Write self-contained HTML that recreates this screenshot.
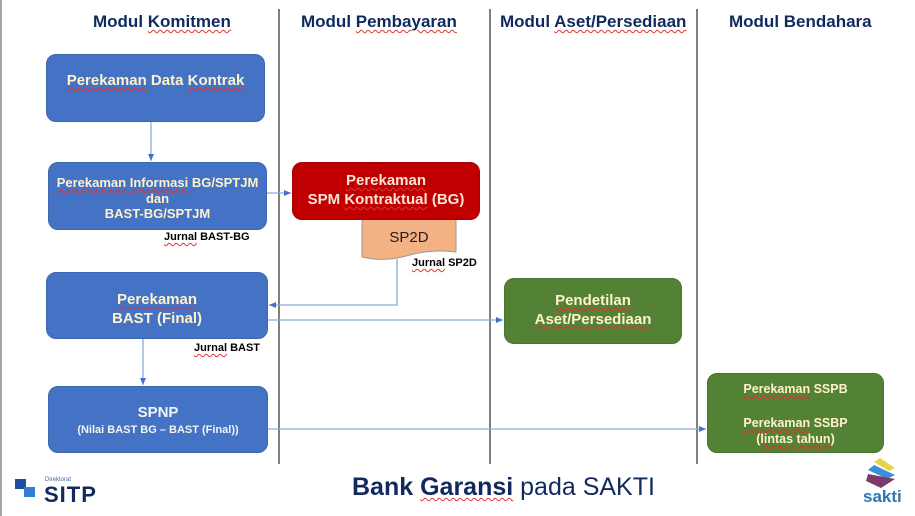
<!DOCTYPE html>
<html><head><meta charset="utf-8">
<style>
html,body{margin:0;padding:0;}
body{width:915px;height:516px;position:relative;overflow:hidden;background:#fff;font-family:"Liberation Sans",sans-serif;}
.abs{position:absolute;}
.hdr{position:absolute;top:12px;font-weight:bold;font-size:17px;color:#10295e;white-space:nowrap;}
.box{position:absolute;border-radius:10px;box-sizing:border-box;}
.blue{background:#4472c4;border:1px solid #3d66b0;}
.green{background:#548235;border:1px solid #4a7430;}
.red{background:#c00000;border:1px solid #a80000;}
.t{position:absolute;left:0;right:0;text-align:center;font-weight:bold;white-space:nowrap;color:#fff2cc;}
.sq{text-decoration:underline wavy #d33;text-decoration-thickness:1px;text-underline-offset:2px;}
.j{position:absolute;font-weight:bold;font-size:11px;color:#000;white-space:nowrap;}
</style></head><body>
<div class="abs" style="left:0;top:0;width:2px;height:516px;background:#a6a6a6"></div>

<svg class="abs" style="left:0;top:0" width="915" height="516">
  <defs>
    <marker id="ar" markerWidth="8" markerHeight="8" refX="7" refY="4" orient="auto" markerUnits="userSpaceOnUse">
      <path d="M0,1 L7,4 L0,7 Z" fill="#4472c4"/>
    </marker>
  </defs>
  <line x1="279" y1="9" x2="279" y2="464" stroke="#7f7f7f" stroke-width="2"/>
  <line x1="490" y1="9" x2="490" y2="464" stroke="#7f7f7f" stroke-width="2"/>
  <line x1="697" y1="9" x2="697" y2="464" stroke="#7f7f7f" stroke-width="2"/>
  <!-- connectors -->
  <line x1="151" y1="122" x2="151" y2="161" stroke="#8faadc" stroke-width="1.3" marker-end="url(#ar)"/>
  <line x1="267" y1="193" x2="291" y2="193" stroke="#8faadc" stroke-width="1.3" marker-end="url(#ar)"/>
  <polyline points="397,259 397,305 269,305" fill="none" stroke="#8faadc" stroke-width="1.3" marker-end="url(#ar)"/>
  <line x1="268" y1="320" x2="503" y2="320" stroke="#8faadc" stroke-width="1.3" marker-end="url(#ar)"/>
  <line x1="143" y1="339" x2="143" y2="385" stroke="#8faadc" stroke-width="1.3" marker-end="url(#ar)"/>
  <line x1="268" y1="429" x2="706" y2="429" stroke="#8faadc" stroke-width="1.3" marker-end="url(#ar)"/>
  <!-- SP2D doc -->
  <path d="M362,216 L456,216 L456,252 C440,250 425,251 410,255 C393,260 378,261 362,257 Z" fill="#f4b183" stroke="#9a9a9a" stroke-width="1"/>
  <text x="409" y="242" text-anchor="middle" font-family="Liberation Sans, sans-serif" font-size="15" fill="#222">SP2D</text>
  <!-- SITP logo -->
  <rect x="15" y="479" width="11" height="10" fill="#1f4e9b"/>
  <rect x="24" y="487" width="11" height="10" fill="#2f7fd3"/>
  <!-- sakti logo -->
  <polygon points="880,458 895,468 889,471 874,462" fill="#e8d44a"/>
  <polygon points="874,465 895,475 887,479 868,470" fill="#3a8fd6"/>
  <polygon points="868,474 895,479 881,488 866,481" fill="#7b3b6a"/>
</svg>

<div class="hdr" style="left:93px"><span>Modul </span><span class="sq">Komitmen</span></div>
<div class="hdr" style="left:301px"><span>Modul </span><span class="sq">Pembayaran</span></div>
<div class="hdr" style="left:500px"><span>Modul </span><span class="sq">Aset/Persediaan</span></div>
<div class="hdr" style="left:729px">Modul Bendahara</div>

<div class="box blue" style="left:46px;top:54px;width:219px;height:68px">
  <div class="t" style="top:17px;font-size:15px"><span class="sq">Perekaman</span> Data <span class="sq">Kontrak</span></div>
</div>

<div class="box blue" style="left:48px;top:162px;width:219px;height:68px">
  <div class="t" style="top:12px;font-size:13px;line-height:15.5px"><span class="sq">Perekaman</span> <span class="sq">Informasi</span> BG/SPTJM<br>dan<br>BAST-BG/SPTJM</div>
</div>
<div class="j" style="left:164px;top:231px"><span class="sq">Jurnal</span> BAST-BG</div>

<div class="box red" style="left:292px;top:162px;width:188px;height:58px">
  <div class="t" style="top:8px;font-size:15px;line-height:19px;color:#fce4d6"><span class="sq">Perekaman</span><br>SPM <span class="sq">Kontraktual</span> (BG)</div>
</div>
<div class="j" style="left:412px;top:257px"><span class="sq">Jurnal</span> SP2D</div>

<div class="box blue" style="left:46px;top:272px;width:222px;height:67px">
  <div class="t" style="top:18px;font-size:15px;line-height:18.5px"><span class="sq">Perekaman</span><br>BAST (Final)</div>
</div>
<div class="j" style="left:194px;top:342px"><span class="sq">Jurnal</span> BAST</div>

<div class="box blue" style="left:48px;top:386px;width:220px;height:67px">
  <div class="t" style="top:17px;font-size:15px;color:#f4f4f4">SPNP</div>
  <div class="t" style="top:37px;font-size:11px;color:#f4f4f4">(Nilai BAST BG – BAST (Final))</div>
</div>

<div class="box green" style="left:504px;top:278px;width:178px;height:66px">
  <div class="t" style="top:13px;font-size:15px;line-height:18.5px"><span class="sq">Pendetilan</span><br><span class="sq">Aset/Persediaan</span></div>
</div>

<div class="box green" style="left:707px;top:373px;width:177px;height:80px">
  <div class="t" style="top:8px;font-size:12.5px"><span class="sq">Perekaman</span> SSPB</div>
  <div class="t" style="top:41px;font-size:12.5px;line-height:16px"><span class="sq">Perekaman</span> SSBP<br>(<span class="sq">lintas</span> <span class="sq">tahun</span>)</div>
</div>

<div class="abs" style="left:352px;top:473px;font-size:25px;color:#10295e;white-space:nowrap"><b>Bank <span class="sq">Garansi</span></b> pada SAKTI</div>

<div class="abs" style="left:45px;top:477px;font-size:6px;color:#3f6aa8">Direktorat</div>
<div class="abs" style="left:44px;top:482px;font-size:22px;font-weight:900;color:#10295e;letter-spacing:1px">SITP</div>

<div class="abs" style="left:863px;top:487px;font-size:17px;font-weight:bold;color:#2e75b6">sakti</div>
</body></html>
